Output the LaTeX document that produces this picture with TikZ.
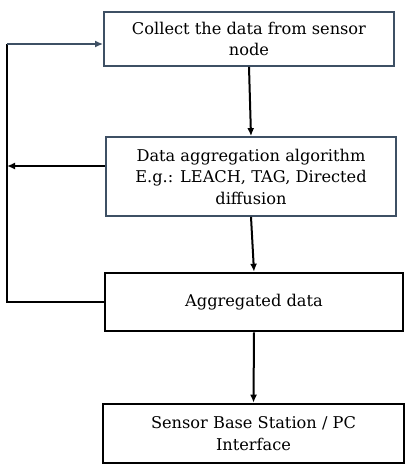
\documentclass[tikz,border=0pt]{standalone}
\usepackage{fontspec}
\setmainfont{DejaVu Serif}
\usetikzlibrary{arrows.meta}
\definecolor{slate}{RGB}{62,80,100}
\tikzset{
  softbox/.style={draw=slate, line width=1.8pt, rectangle, align=center, inner sep=2pt},
  hardbox/.style={draw=black, line width=2.6pt, rectangle, align=center, inner sep=2pt},
  flow/.style={-{Latex[length=8pt,width=7pt]}, line width=2pt}
}
\begin{document}
\begin{tikzpicture}[x=1pt, y=-1pt, font=\fontsize{16.2}{21.5}\selectfont]
    % 1. Khung
    \useasboundingbox (0,0) rectangle (417,471);

    % 2. Cac hop
    \node[softbox, minimum width=290pt, minimum height=54pt] (collect) at (249,39)
        {Collect the data from sensor\\node};
    \node[softbox, minimum width=290pt, minimum height=79pt] (algo) at (251,176.5)
        {Data aggregation algorithm\\E.g.: LEACH, TAG, Directed\\diffusion};
    \node[hardbox, minimum width=298pt, minimum height=58pt] (aggdata) at (254,302)
        {Aggregated data};
    \node[hardbox, minimum width=301pt, minimum height=59pt] (station) at (253.5,433.5)
        {Sensor Base Station / PC\\Interface};

    % 3. Mui ten doc
    \draw[flow] (collect.south) -- (algo.north);
    \draw[flow] (algo.south) -- (aggdata.north);
    \draw[flow] (aggdata.south) -- (station.north);

    % 4. Vong phan hoi ben trai
    \coordinate (loopbot) at (7,302);
    \coordinate (looptop) at (7,44);
    \coordinate (loopmid) at (7,166);
    \draw[line width=2pt] (aggdata.west) -- (loopbot) -- (looptop);
    \draw[flow, slate] (looptop) -- (looptop -| collect.west);
    \draw[flow] (algo.west |- loopmid) -- (loopmid);
\end{tikzpicture}
\end{document}
